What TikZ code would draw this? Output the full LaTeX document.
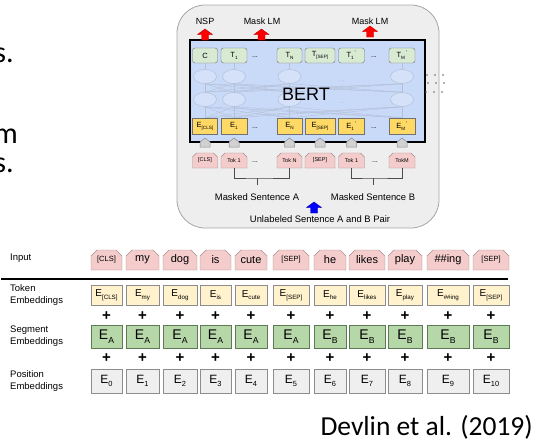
\documentclass[tikz,border=0pt]{standalone}
\usepackage{fontspec}
\setmainfont{Liberation Sans}
\newfontfamily\slidefont{Carlito}
\usetikzlibrary{shapes.misc,shapes.geometric}

\definecolor{panelgray}{HTML}{EEEEEE}
\definecolor{panelline}{HTML}{A6A6A6}
\definecolor{bertblue}{HTML}{C9DAF8}
\definecolor{netline}{HTML}{B3C0D9}
\definecolor{outgreen}{HTML}{D9EAD3}
\definecolor{embyellow}{HTML}{FFD966}
\definecolor{tokpink}{HTML}{F4CCCC}
\definecolor{tokline}{HTML}{A88C8C}
\definecolor{lightyellow}{HTML}{FFF2CC}
\definecolor{seggreen}{HTML}{B6D7A8}
\definecolor{segline}{HTML}{5E7A55}
\definecolor{posgray}{HTML}{EFEFEF}
\definecolor{boxline}{HTML}{8C8C8C}
\definecolor{dotgray}{HTML}{666666}

% low subscript that stays in the sans font
\newcommand\lo[1]{\raisebox{-.5ex}{\scalebox{.62}{#1}}}
\newcommand\smalltag[1]{{\fontsize{7.5}{8}\selectfont #1}}

\tikzset{
	panel/.style={draw=panelline, fill=panelgray, line width=.8pt, rounded corners=28pt},
	bertbox/.style={draw=black, fill=bertblue, line width=1.3pt},
	topbox/.style={draw=boxline!80!black, fill=outgreen, rounded corners=2.5pt, minimum height=15pt,
		inner sep=0pt, font=\fontsize{7.5}{8}\selectfont},
	embbox/.style={draw=boxline!80!black, fill=embyellow, minimum height=16pt,
		inner sep=0pt, font=\fontsize{7.5}{8}\selectfont},
	tokbox/.style={draw=tokline, fill=tokpink, chamfered rectangle,
		chamfered rectangle corners={north west,north east}, chamfered rectangle xsep=2pt,
		chamfered rectangle ysep=2pt, minimum height=15pt, inner sep=0pt,
		font=\fontsize{5.5}{6}\selectfont},
	neuron/.style={draw=netline, fill=bertblue!80!white, ellipse, minimum width=23pt,
		minimum height=14pt, inner sep=0pt, line width=.5pt},
	faint/.style={draw=netline, line width=.4pt},
	gap/.style={inner sep=0pt, font=\fontsize{7}{8}\selectfont},
	headtext/.style={inner sep=0pt, font=\fontsize{9}{10}\selectfont},
	captext/.style={inner sep=0pt, font=\fontsize{9.4}{11}\selectfont},
	bracket/.style={draw=black!70, line width=.6pt},
	inword/.style={draw=tokline, fill=tokpink, chamfered rectangle,
		chamfered rectangle corners={north west,north east}, chamfered rectangle xsep=3pt,
		chamfered rectangle ysep=3pt, minimum height=20pt, inner sep=0pt,
		font=\fontsize{11}{12}\selectfont},
	tokemb/.style={draw=boxline, fill=lightyellow, minimum height=20pt, inner sep=0pt,
		font=\fontsize{10}{11}\selectfont},
	segemb/.style={draw=segline, fill=seggreen, minimum height=23pt, inner sep=0pt,
		font=\fontsize{14}{15}\selectfont},
	posemb/.style={draw=boxline, fill=posgray, minimum height=24pt, inner sep=0pt,
		font=\fontsize{12}{13}\selectfont},
	plussign/.style={inner sep=0pt, font=\fontsize{15}{15}\selectfont\bfseries},
	rowlabel/.style={anchor=west, align=left, inner sep=0pt, font=\fontsize{9.5}{12}\selectfont},
	slidetext/.style={inner sep=0pt, font=\slidefont\fontsize{30}{30}\selectfont},
	blockup/.pic={\path[pic actions] (-3.5,0) -- (-3.5,-5.5) -- (-7.5,-5.5) -- (0,-11)
		-- (7.5,-5.5) -- (3.5,-5.5) -- (3.5,0) -- cycle;},
	house/.pic={\path[pic actions] (-5,0) -- (-5,-5) -- (0,-9) -- (5,-5) -- (5,0) -- cycle;}
}

\begin{document}
\begin{tikzpicture}[x=1pt, y=-1pt]
	\useasboundingbox (0,0) rectangle (537,445);

	% bits of the slide text on the left
	\node[slidetext, anchor=east] (fragA) at (14,55) {s.};
	\node[slidetext, anchor=east] (fragB) at (18,136.5) {m};
	\node[slidetext, anchor=east] (fragC) at (14,165) {s.};

	% pre-training panel
	\draw[panel] (177,5) rectangle (439,228);
	\draw[bertbox] (190,40) rectangle (425,142);

	\coordinate (rowA) at (0,76.5);
	\coordinate (rowB) at (0,99.5);
	\coordinate (houseRow) at (0,147);

	\foreach \n/\cx/\w/\tlab/\elab/\klab in {
		1/205/25/C/E\lo{[CLS]}/[CLS],
		2/234/26/T\lo{1}/E\lo{1}/Tok 1,
		3/289.5/25/T\lo{N}/E\lo{N}/Tok N,
		4/320/30/T\lo{[SEP]}/E\lo{[SEP]}/[SEP],
		5/351.5/26/T\lo{1}\textsuperscript{\,'}/E\lo{1}\textsuperscript{\,'}/Tok 1,
		6/402/26/T\lo{M}\textsuperscript{\,'}/E\lo{M}\textsuperscript{\,'}/TokM}{
		\node[topbox, minimum width=\w] (t\n) at (\cx,55.5) {\tlab};
		\node[embbox, minimum width=\w] (e\n) at (\cx,126) {\elab};
		\node[tokbox, minimum width=\w] (k\n) at (\cx,160.5) {\klab};
		\pic[draw=boxline, fill=black!18, line width=.5pt] (up\n) at (k\n |- houseRow) {house};
	}

	\node[gap] (dt1) at (255,57) {...};
	\node[gap] (dt2) at (374,57) {...};
	\node[gap] (de1) at (255,128) {...};
	\node[gap] (de2) at (374,128) {...};
	\node[gap] (dk1) at (255,162) {...};
	\node[gap] (dk2) at (375,162) {...};

	% the transformer layers behind the label
	\foreach \n in {1,2,3,6}{
		\node[neuron] (na\n) at (t\n |- rowA) {};
		\node[neuron] (nb\n) at (t\n |- rowB) {};
	}
	\foreach \a in {1,2,3,6}{
		\draw[faint] (na\a) -- (t\a);
		\foreach \b in {1,2,3,6}{
			\draw[faint] (nb\a.north) -- (na\b.south);
			\draw[faint] (e\a.north) -- (nb\b.south);
		}
	}
	\node[gap, text=netline] (dn1) at (342,81) {...};
	\node[gap, text=netline] (dn2) at (342,103) {...};
	\node[inner sep=0pt, font=\fontsize{18}{18}\selectfont] (bert) at (306,94) {BERT};

	\foreach \dx/\dy in {427/75, 435/75, 443/75, 428/83, 436/83, 444/83, 426/92, 434/92, 442/92}
		\fill[dotgray] (\dx,\dy) circle (.8);

	% outputs
	\node[headtext] (nsp) at (205,21) {NSP};
	\node[headtext] (mlmA) at (262,21) {Mask LM};
	\node[headtext] (mlmB) at (370,21) {Mask LM};
	\pic[draw=red!75!black, fill=red, line width=.4pt] (upNsp) at (205,40) {blockup};
	\pic[draw=red!75!black, fill=red, line width=.4pt] (upA) at (261.5,40) {blockup};
	\pic[draw=red!75!black, fill=red, line width=.4pt] (upB) at (370,37) {blockup};

	% sentence brackets
	\coordinate (brA) at (257,178);
	\coordinate (brB) at (373,178);
	\draw[bracket] (k2.south) |- (brA) -| (k3.south);
	\draw[bracket] (brA) -- ++(0,7);
	\draw[bracket] (k5.south) |- (brB) -| (k6.south);
	\draw[bracket] (brB) -- ++(0,7);
	\node[captext] (sentA) at (257,197) {Masked Sentence A};
	\node[captext] (sentB) at (373,197) {Masked Sentence B};
	\pic[draw=blue!60!black, fill=blue, line width=.4pt] (upPair) at (314,213) {blockup};
	\node[captext] (pair) at (320,219.5) {Unlabeled Sentence A and B Pair};

	% input representation
	\node[rowlabel] (lbIn) at (10,258) {Input};
	\node[rowlabel] (lbTok) at (10,295) {Token\\Embeddings};
	\node[rowlabel] (lbSeg) at (10,336) {Segment\\Embeddings};
	\node[rowlabel] (lbPos) at (10,381.5) {Position\\Embeddings};
	\draw[line width=1.3pt] (1,279) -- (508,279);

	\foreach \i/\cx/\w/\word/\sb/\sg in {
		1/106.5/31/\smalltag{[CLS]}/{[CLS]}/A,
		2/142.5/33/my/my/A,
		3/180/34/dog/dog/A,
		4/215.5/31/is/is/A,
		5/251/32/cute/cute/A,
		6/291/36/\smalltag{[SEP]}/{[SEP]}/A,
		7/330/32/he/he/B,
		8/367/36/likes/likes/B,
		9/405/34/play/play/B,
		10/448/42/\#\#ing/\#\#ing/B,
		11/491/36/\smalltag{[SEP]}/{[SEP]}/B}{
		\pgfmathtruncatemacro\p{\i-1}
		\node[inword, minimum width=\w] (in\i) at (\cx,260) {\word};
		\node[tokemb, minimum width=\w] (tk\i) at (\cx,295) {E\lo{\sb}};
		\node[plussign] (pa\i) at (\cx,316) {+};
		\node[segemb, minimum width=\w] (sg\i) at (\cx,336.5) {E\lo{\sg}};
		\node[plussign] (pb\i) at (\cx,358.5) {+};
		\node[posemb, minimum width=\w] (ps\i) at (\cx,381) {E\lo{\p}};
	}

	\node[inner sep=0pt, anchor=east, font=\slidefont\fontsize{27.5}{30}\selectfont] (cite) at (533,427) {Devlin et al. (2019)};
\end{tikzpicture}
\end{document}
